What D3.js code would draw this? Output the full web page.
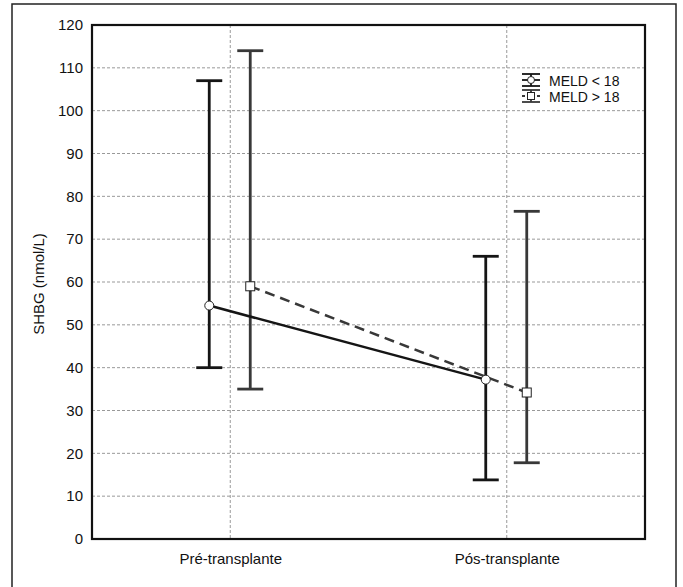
<!DOCTYPE html>
<html>
<head>
<meta charset="utf-8">
<script src="https://cdn.jsdelivr.net/npm/d3@7"></script>
<style>
  body { margin: 0; background: #fff; }
  svg text { font-family: "Liberation Sans", Arial, sans-serif; fill: #111; }
</style>
</head>
<body>
<div id="chart"></div>
<script>
// data
var categories = ["Pré-transplante", "Pós-transplante"];
var groups = ["MELD < 18", "MELD > 18"];
var meanLow = [54.5, 37.2];   // MELD < 18
var upperLow = [107, 66];
var lowerLow = [40, 13.8];
var meanHigh = [59, 34.2];    // MELD > 18
var upperHigh = [114, 76.5];
var lowerHigh = [35, 17.8];
var yTicks = [0, 10, 20, 30, 40, 50, 60, 70, 80, 90, 100, 110, 120];

var margin = {top: 25, right: 38, bottom: 48, left: 92},
    width = 683 - margin.left - margin.right,
    height = 587 - margin.top - margin.bottom;

var svg = d3.select("#chart")
  .append("svg")
  .attr("width", 683)
  .attr("height", 587);

// outer frame
svg.append("rect")
  .attr("x", 12).attr("y", 4)
  .attr("width", 664).attr("height", 600)
  .attr("fill", "none")
  .attr("stroke", "#222")
  .attr("stroke-width", 1.5);

var g = svg.append("g")
  .attr("transform", "translate(" + margin.left + "," + margin.top + ")");

var x = d3.scalePoint().domain(categories).range([0, width]).padding(0.5);
var y = d3.scaleLinear().domain([0, 120]).range([height, 0]);

// grid
g.append("g").selectAll("line")
  .data(yTicks.filter(function(d){ return d > 0 && d < 120; }))
  .enter().append("line")
  .attr("x1", 0).attr("x2", width)
  .attr("y1", function(d){ return y(d); }).attr("y2", function(d){ return y(d); })
  .attr("stroke", "#999").attr("stroke-dasharray", "3,2");
g.append("g").selectAll("line")
  .data(categories)
  .enter().append("line")
  .attr("x1", function(d){ return x(d); }).attr("x2", function(d){ return x(d); })
  .attr("y1", 0).attr("y2", height)
  .attr("stroke", "#999").attr("stroke-dasharray", "3,2");

// axes
var yAxis = g.append("g")
  .call(d3.axisLeft(y).tickValues(yTicks).tickSize(0).tickPadding(9));
yAxis.select(".domain").remove();
yAxis.selectAll("text").style("font-size", "15px");

var xAxis = g.append("g")
  .attr("transform", "translate(0," + height + ")")
  .call(d3.axisBottom(x).tickSize(0).tickPadding(14));
xAxis.select(".domain").remove();
xAxis.selectAll("text").style("font-size", "15px");

g.append("rect")
  .attr("width", width).attr("height", height)
  .attr("fill", "none").attr("stroke", "#111").attr("stroke-width", 2.2);

svg.append("text")
  .attr("transform", "translate(44," + (margin.top + height / 2 + 2) + ") rotate(-90)")
  .attr("text-anchor", "middle")
  .style("font-size", "15px")
  .text("SHBG (nmol/L)");

var series = [
  {mean: meanLow, up: upperLow, lo: lowerLow, dx: -21, color: "#151515", dash: null, marker: "circle"},
  {mean: meanHigh, up: upperHigh, lo: lowerHigh, dx: 20, color: "#383838", dash: "10,6", marker: "square"}
];
var capHalf = 13;

series.forEach(function(s) {
  var pts = categories.map(function(c, i) {
    return {x: x(c) + s.dx, m: s.mean[i], u: s.up[i], l: s.lo[i]};
  });
  var eb = g.append("g").attr("stroke", s.color).attr("stroke-width", 2.8);
  eb.selectAll(".w").data(pts).enter().append("line")
    .attr("x1", function(d){ return d.x; }).attr("x2", function(d){ return d.x; })
    .attr("y1", function(d){ return y(d.u); }).attr("y2", function(d){ return y(d.l); });
  eb.selectAll(".cu").data(pts).enter().append("line")
    .attr("x1", function(d){ return d.x - capHalf; }).attr("x2", function(d){ return d.x + capHalf; })
    .attr("y1", function(d){ return y(d.u); }).attr("y2", function(d){ return y(d.u); });
  eb.selectAll(".cl").data(pts).enter().append("line")
    .attr("x1", function(d){ return d.x - capHalf; }).attr("x2", function(d){ return d.x + capHalf; })
    .attr("y1", function(d){ return y(d.l); }).attr("y2", function(d){ return y(d.l); });
  s.pts = pts;
});

series.forEach(function(s) {
  g.append("path")
    .datum(s.pts)
    .attr("fill", "none")
    .attr("stroke", s.color)
    .attr("stroke-width", 2.5)
    .attr("stroke-dasharray", s.dash)
    .attr("d", d3.line().x(function(d){ return d.x; }).y(function(d){ return y(d.m); }));
});

series.forEach(function(s) {
  if (s.marker === "circle") {
    g.selectAll(null).data(s.pts).enter().append("circle")
      .attr("cx", function(d){ return d.x; }).attr("cy", function(d){ return y(d.m); })
      .attr("r", 4.5).attr("fill", "#fff").attr("stroke", "#222").attr("stroke-width", 1);
  } else {
    g.selectAll(null).data(s.pts).enter().append("rect")
      .attr("x", function(d){ return d.x - 4.5; }).attr("y", function(d){ return y(d.m) - 4.5; })
      .attr("width", 9).attr("height", 9).attr("fill", "#fff").attr("stroke", "#222").attr("stroke-width", 1);
  }
});

// legend
var legend = svg.append("g");
groups.forEach(function(name, i) {
  var cy = 80 + i * 16, lx = 531, s = series[i];
  var lg = legend.append("g").attr("stroke", s.color).attr("stroke-width", 1.8);
  lg.append("line").attr("x1", lx - 9).attr("x2", lx + 9).attr("y1", cy - 6).attr("y2", cy - 6);
  lg.append("line").attr("x1", lx - 9).attr("x2", lx + 9).attr("y1", cy + 6).attr("y2", cy + 6);
  lg.append("line").attr("x1", lx).attr("x2", lx).attr("y1", cy - 6).attr("y2", cy + 6);
  lg.append("line").attr("x1", lx - 9).attr("x2", lx + 9).attr("y1", cy).attr("y2", cy)
    .attr("stroke-dasharray", s.dash ? "3,2" : null);
  if (s.marker === "circle") {
    legend.append("circle").attr("cx", lx).attr("cy", cy).attr("r", 3.5)
      .attr("fill", "#fff").attr("stroke", "#222");
  } else {
    legend.append("rect").attr("x", lx - 3.5).attr("y", cy - 3.5).attr("width", 7).attr("height", 7)
      .attr("fill", "#fff").attr("stroke", "#222");
  }
  legend.append("text").attr("x", 549).attr("y", cy + 6)
    .style("font-size", "14px").text(name);
});
</script>
</body>
</html>
